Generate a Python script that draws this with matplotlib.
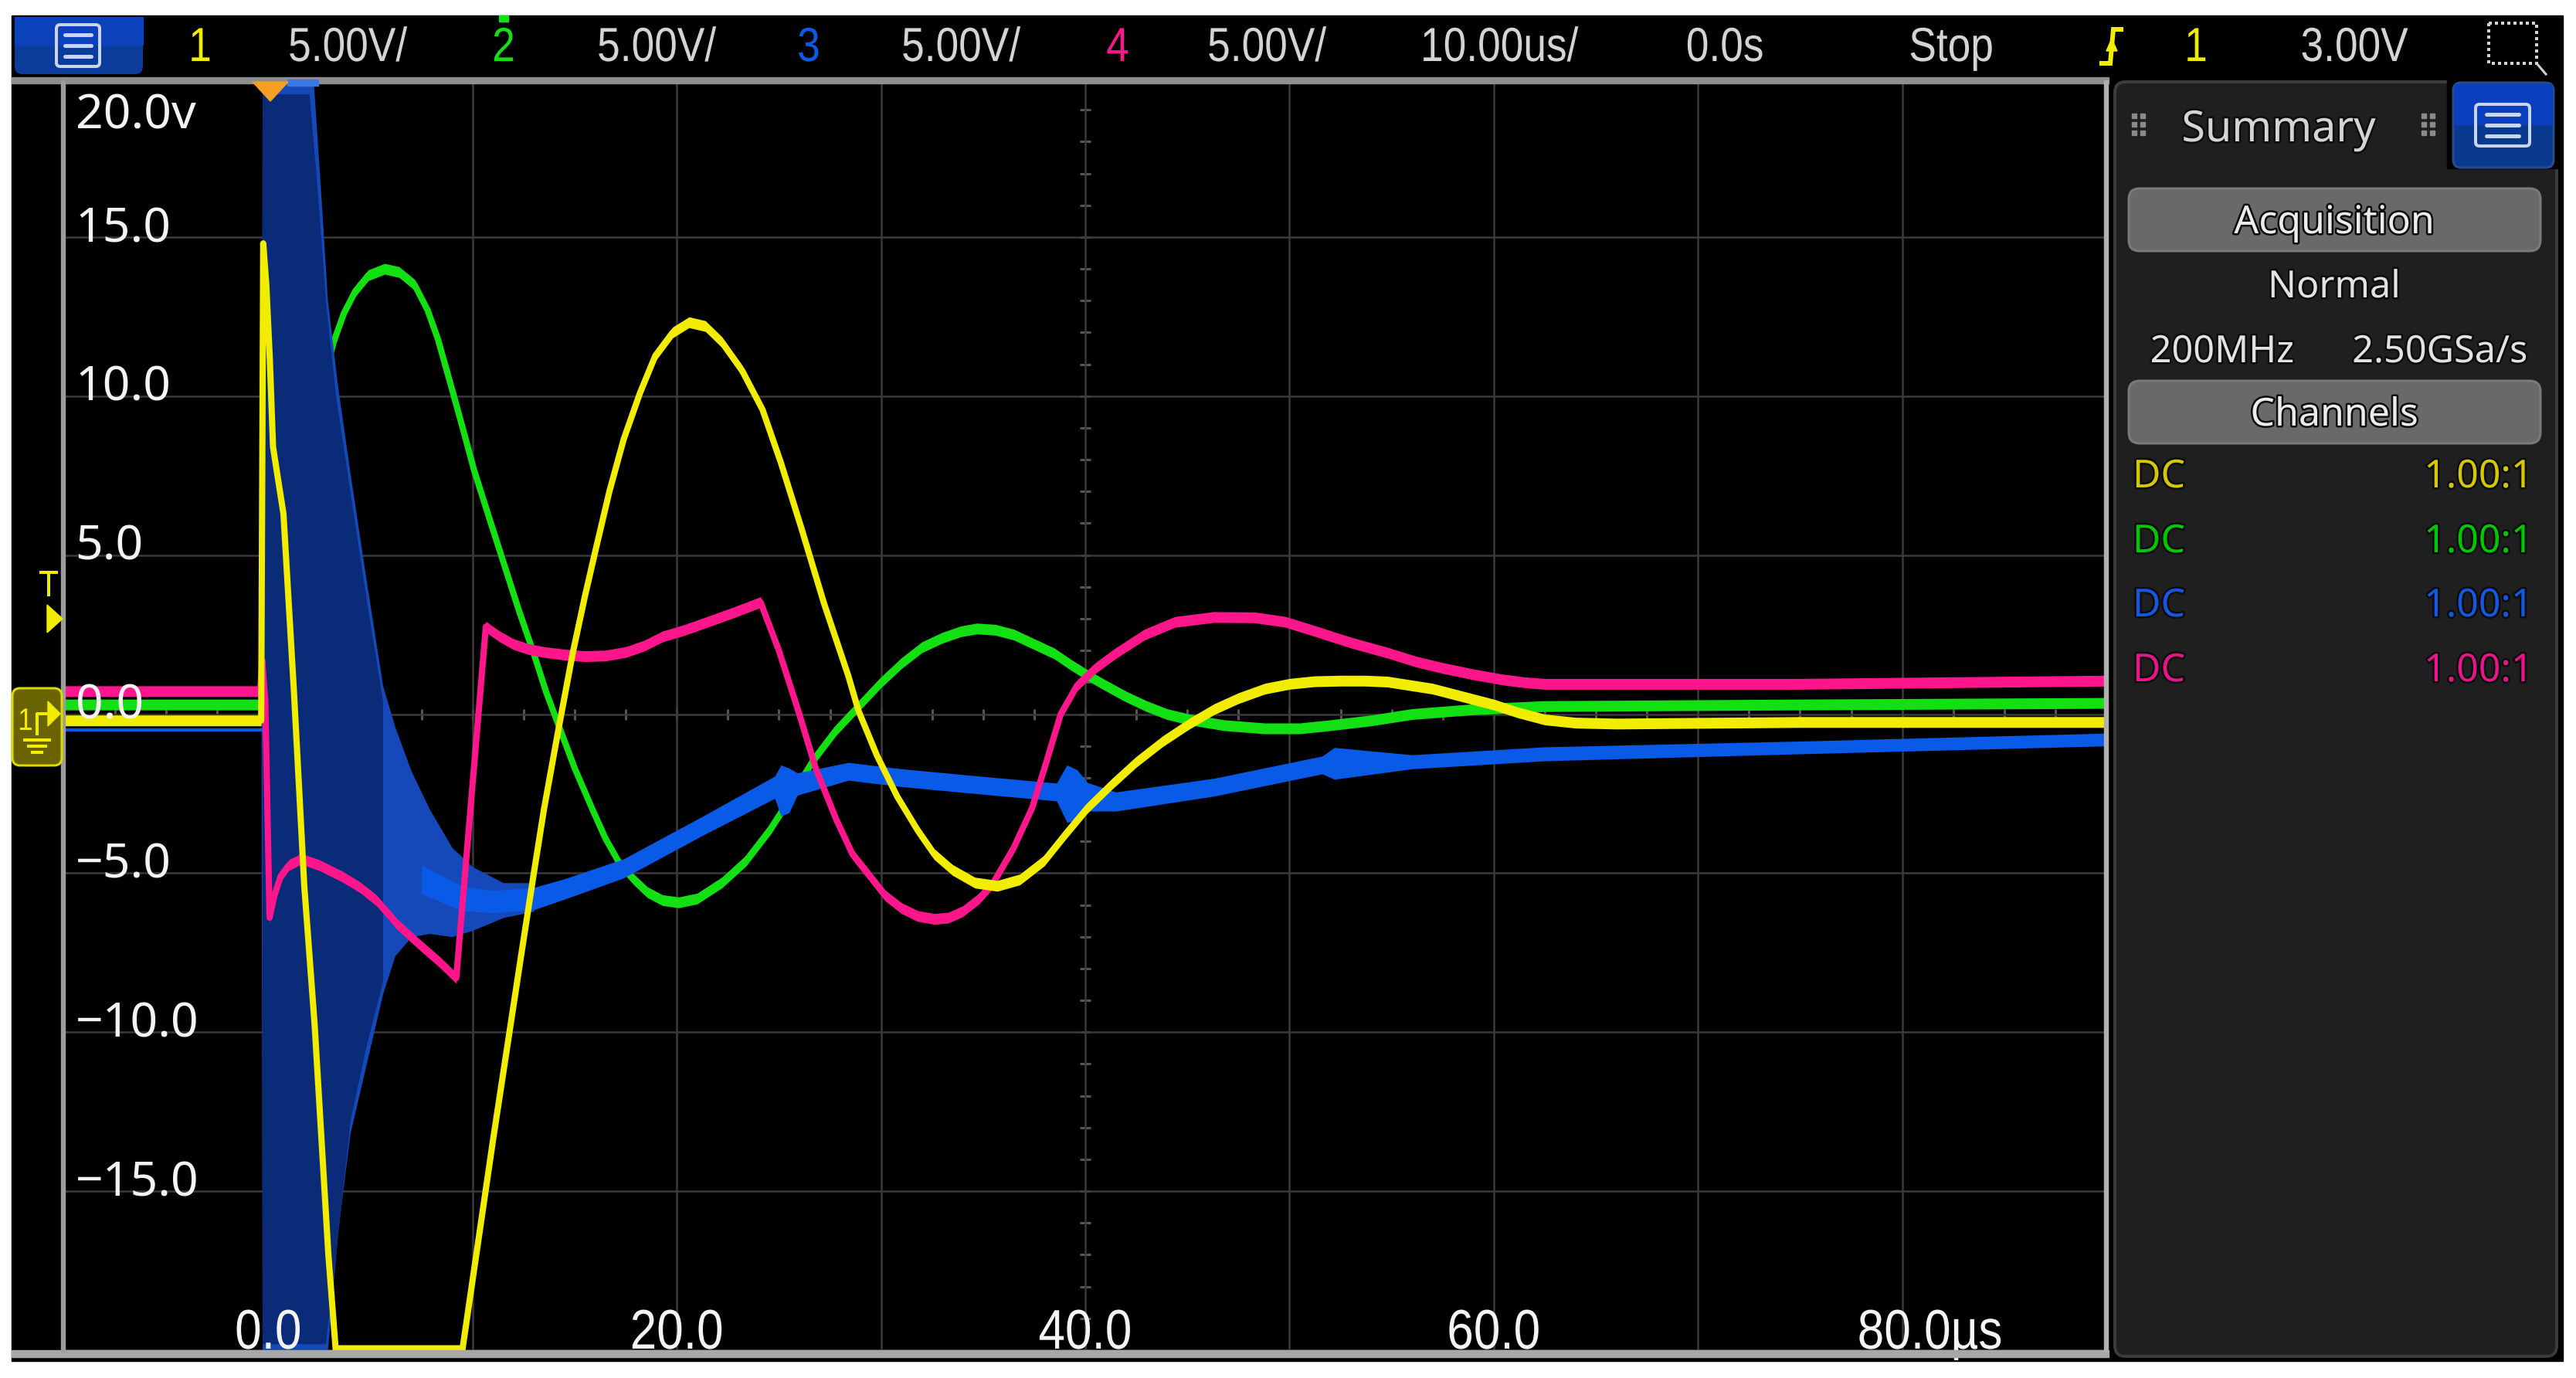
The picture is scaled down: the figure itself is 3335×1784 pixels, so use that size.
import numpy as np
import matplotlib
matplotlib.use('Agg')
import matplotlib.pyplot as plt
from matplotlib.patches import Rectangle, FancyBboxPatch, Polygon
from matplotlib.textpath import TextPath
from matplotlib.font_manager import FontProperties
from matplotlib.transforms import Affine2D
import matplotlib.patheffects as pe
from matplotlib import font_manager as fm

# ---------------- data (time in us, voltage in V) ----------------
yellow_t = [-10, -0.35, -0.25, -0.1, 0.07, 0.23, 0.74, 1.25, 1.76, 2.27, 2.94, 3.3, 9.5, 11.0,
            12.4, 13.0, 13.5, 14.2, 14.9, 15.5, 16.05, 16.7, 17.4, 18.2, 18.95, 19.8, 20.6, 21.4,
            22.2, 23.2, 24.2, 25.1, 26.1, 27.2, 28.4, 28.9, 29.8, 30.8, 31.8, 32.6, 33.5, 34.6,
            35.7, 36.8, 38.0, 39.0, 40.1, 41.3, 42.5, 43.8, 45.1, 46.3, 47.5, 48.8, 50.0, 51.2,
            52.5, 53.7, 54.8, 56.0, 57.0, 58.5, 60.0, 61.2, 62.5, 64.0, 66.0, 75.0, 90.0]
yellow_v = [-0.2, -0.2, 14.8, 13.5, 11.2, 8.4, 6.3, 0.75, -5.4, -9.8, -17.0, -20.0, -20.0, -13.4,
            -7.5, -5.0, -2.98, -0.5, 1.9, 3.7, 5.23, 7.0, 8.64, 10.1, 11.27, 12.0, 12.32, 12.2,
            11.7, 10.8, 9.57, 7.9, 5.85, 3.5, 1.2, 0.1, -1.3, -2.6, -3.66, -4.4, -4.9, -5.3,
            -5.4, -5.2, -4.6, -3.8, -2.95, -2.2, -1.5, -0.85, -0.3, 0.15, 0.5, 0.8, 0.95, 1.03,
            1.05, 1.05, 1.02, 0.9, 0.8, 0.55, 0.3, 0.05, -0.17, -0.27, -0.3, -0.25, -0.25]

green_t = [-10, -0.3, 0.5, 1.5, 2.5, 3.2, 3.7, 4.26, 4.9, 5.7, 6.4, 7.16, 7.8, 8.3, 9.0, 9.6, 10.06,
           10.8, 11.6, 12.3, 12.96, 13.6, 14.3, 15.0, 15.86, 16.5, 17.2, 17.9, 18.56, 19.3, 20.1,
           21.0, 22.2, 23.4, 24.6, 25.6, 26.7, 27.8, 28.9, 30.0, 31.0, 32.0, 33.0, 33.9, 34.7,
           35.6, 36.5, 37.5, 38.5, 39.3, 40.1, 41.0, 42.0, 43.0, 44.0, 45.1, 46.8, 48.8, 50.5,
           52.0, 54.0, 56.0, 59.0, 62.5, 75.0, 90.0]
green_v = [0.3, 0.3, 3.0, 7.0, 10.0, 11.7, 12.6, 13.3, 13.8, 14.0, 13.9, 13.5, 12.7, 11.8, 10.2,
           8.8, 7.7, 6.2, 4.6, 3.2, 1.98, 0.7, -0.5, -1.7, -2.98, -3.9, -4.7, -5.2, -5.6, -5.85,
           -5.92, -5.8, -5.3, -4.6, -3.6, -2.6, -1.43, -0.5, 0.25, 1.0, 1.6, 2.1, 2.4, 2.6, 2.69,
           2.65, 2.5, 2.2, 1.9, 1.55, 1.23, 0.9, 0.55, 0.25, 0.0, -0.17, -0.35, -0.45, -0.45,
           -0.35, -0.2, 0.0, 0.15, 0.25, 0.3, 0.35]

pink_t = [-10, -0.4, -0.3, -0.15, 0.06, 0.3, 0.6, 1.0, 1.6, 2.5, 3.6, 4.5, 5.3, 5.9, 6.3, 7.5, 8.4,
          9.2, 10.65, 11.3, 12.0, 12.7, 13.5, 14.5, 15.5, 16.5, 17.5, 18.4, 19.3, 20.4, 21.5, 22.8,
          24.1, 25.0, 26.0, 26.8, 27.8, 28.6, 29.4, 30.2, 31.0, 31.8, 32.6, 33.3, 34.0, 34.8,
          35.5, 36.5, 37.4, 38.1, 38.8, 39.6, 40.5, 41.5, 42.9, 44.4, 46.3, 48.3, 49.8, 51.2,
          53.0, 54.8, 56.2, 57.5, 59.0, 60.4, 61.5, 62.5, 75.0, 90.0]
pink_v = [0.72, 0.72, 1.7, 0.4, -6.4, -5.7, -5.1, -4.75, -4.55, -4.75, -5.1, -5.45, -5.86, -6.3,
          -6.6, -7.3, -7.8, -8.3, 2.75, 2.45, 2.2, 2.05, 1.95, 1.87, 1.82, 1.84, 1.95, 2.15, 2.44,
          2.65, 2.9, 3.2, 3.52, 2.0, 0.0, -1.7, -3.3, -4.4, -5.05, -5.7, -6.1, -6.35, -6.44,
          -6.4, -6.2, -5.8, -5.3, -4.2, -2.95, -1.5, 0.0, 0.9, 1.45, 1.92, 2.5, 2.9, 3.05, 3.04,
          2.9, 2.62, 2.25, 1.93, 1.65, 1.45, 1.25, 1.09, 1.0, 0.95, 0.95, 1.05]

blue_pre_t = [-10, -0.3]
blue_pre_v = [-0.5, -0.5]
blue_env_t = [-0.35, -0.3, 2.2, 2.6, 2.9, 3.4, 4.0, 4.8, 5.6, 6.2, 7.0, 7.9, 9.0, 10.0, 11.5, 13.0]
blue_env_hi = [-0.3, 20, 20, 16.1, 13.0, 10.3, 7.6, 4.2, 0.9, -0.4, -1.8, -3.0, -4.2, -4.8, -5.3, -5.3]
blue_env_lo = [-0.7, -20, -20, -20, -20, -16.3, -13.2, -11.0, -8.8, -7.6, -7.0, -6.9, -7.0, -6.8, -6.4, -6.2]
blue_core_t = [-0.3, 2.0, 2.4, 2.8, 3.3, 4.0, 4.8, 5.6]
blue_core_hi = [19.5, 19.5, 16.5, 13.0, 10.0, 7.0, 3.6, 0.4]
blue_core_lo = [-19.8, -19.8, -19.8, -19.8, -17.0, -12.8, -10.4, -8.4]
blue_t = [7.5, 9.5, 11.0, 13.0, 14.5, 17.4, 21.3, 24.8, 25.1, 25.5, 25.9, 28.4, 31.0, 34.3, 38.6,
          39.1, 39.6, 40.1, 41.5, 46.3, 51.6, 52.2, 56.0, 62.5, 75.0, 90.0]
blue_v = [-5.2, -5.8, -5.9, -5.8, -5.5, -4.85, -3.5, -2.3, -2.4, -2.4, -2.2, -1.8, -2.0, -2.2,
          -2.45, -2.5, -2.55, -2.6, -2.75, -2.3, -1.6, -1.55, -1.5, -1.25, -1.05, -0.8]
blue_w = [0.45, 0.38, 0.35, 0.35, 0.32, 0.3, 0.3, 0.35, 0.8, 0.7, 0.35, 0.28, 0.28, 0.28, 0.28,
          0.9, 0.8, 0.45, 0.3, 0.28, 0.28, 0.5, 0.22, 0.22, 0.2, 0.2]

ylab_vals = [20, 15, 10, 5, 0, -5, -10, -15]
ylab_text = ['20.0v', '15.0', '10.0', '5.0', '0.0', '\u22125.0', '\u221210.0', '\u221215.0']
xlab_vals = [0, 20, 40, 60, 80]
xlab_text = ['0.0', '20.0', '40.0', '60.0', '80.0']
x_unit = '\u00b5s'

topbar_items = [('1', 'ch1'), ('5.00V/', 'txt'), ('2', 'ch2'), ('5.00V/', 'txt'), ('3', 'ch3'),
                ('5.00V/', 'txt'), ('4', 'ch4'), ('5.00V/', 'txt'), ('10.00us/', 'txt'),
                ('0.0s', 'txt'), ('Stop', 'txt'), ('1', 'ch1'), ('3.00V', 'txt')]
channel_rows = [('DC', '1.00:1', 'ch1'), ('DC', '1.00:1', 'ch2'), ('DC', '1.00:1', 'ch3'),
                ('DC', '1.00:1', 'ch4')]

# ---------------- style ----------------
W, H, DPI = 3335, 1784, 100
names = {f.name for f in fm.fontManager.ttflist}
SANS = 'Noto Sans' if 'Noto Sans' in names else 'DejaVu Sans'
skw = {'family': [SANS, 'DejaVu Sans']}
NARROW_FAM = ['Liberation Sans', 'DejaVu Sans']
NFP = FontProperties(family=NARROW_FAM)
SX = 0.86

COL = {'ch1': '#f2ec00', 'ch2': '#12e012', 'ch3': '#0a5ae8', 'ch4': '#ff168c', 'txt': '#d4d4d4'}
PANEL_COL = {'ch1': '#d4c800', 'ch2': '#00c800', 'ch3': '#1458e0', 'ch4': '#e8158a'}


def pt(px):
    return px * 72.0 / DPI


class Condense(pe.AbstractPathEffect):
    """Draw the text glyphs horizontally compressed about the text anchor."""

    def __init__(self, sx):
        super().__init__()
        self.sx = sx
        self.text = None

    def draw_path(self, renderer, gc, tpath, affine, rgbFace=None):
        cx = self.text.get_transform().transform(self.text.get_position())[0]
        aff = affine + Affine2D().translate(-cx, 0).scale(self.sx, 1).translate(cx, 0)
        renderer.draw_path(gc, tpath, aff, rgbFace)


def ctext(axx, x, y, s, fs, color, ha='center', sx=SX, z=10):
    eff = Condense(sx)
    t = axx.text(x, y, s, fontsize=fs, color=color, ha=ha, va='baseline', family=NARROW_FAM,
                 path_effects=[eff], zorder=z)
    eff.text = t
    return t


fig = plt.figure(figsize=(W / DPI, H / DPI), dpi=DPI, facecolor='white')

ui = fig.add_axes([0, 0, 1, 1], zorder=0)
ui.set_xlim(0, W); ui.set_ylim(H, 0); ui.axis('off')
ui.add_patch(Rectangle((15, 20), 3303, 1742, color='black'))

# ---------------- main plot ----------------
L, R, T, B = 83, 2727, 101, 1748
ax = fig.add_axes([L / W, (H - B) / H, (R - L) / W, (B - T) / H], zorder=1)
ax.set_facecolor('black')
ax.set_xlim(-10, 90)
ax.set_ylim(-20, 20)
ax.set_xticks(np.arange(-10, 91, 10))
ax.set_yticks(np.arange(-20, 21, 5))
ax.tick_params(length=0, labelbottom=False, labelleft=False)
ax.grid(True, color='#3a3a3a', lw=pt(2.5), zorder=0.5)
for s in ax.spines.values():
    s.set_visible(False)

mv = np.arange(-20, 21, 1.0)
ax.plot(np.full_like(mv, 40.0), mv, ls='none', marker='_', ms=pt(14), mew=pt(3),
        color='#555555', zorder=0.6)
mt = np.arange(-10, 91, 2.5)
ax.plot(mt, np.zeros_like(mt), ls='none', marker='|', ms=pt(14), mew=pt(3),
        color='#555555', zorder=0.6)


def trace(t, v, color, z, band=0.17, lw=5.8):
    t = np.asarray(t, float); v = np.asarray(v, float)
    ax.fill_between(t, v - band, v + band, color=color, lw=0, zorder=z)
    ax.plot(t, v, color=color, lw=lw, zorder=z, solid_joinstyle='round')


trace(green_t, green_v, COL['ch2'], 2)
ax.fill_between(blue_env_t, blue_env_lo, blue_env_hi, color='#1548b8', lw=0, zorder=3)
ax.fill_between(blue_core_t, blue_core_lo, blue_core_hi, color='#0a2c78', lw=0, zorder=3.05)
bt = np.asarray(blue_t); bv = np.asarray(blue_v); bw = np.asarray(blue_w)
ax.fill_between(bt, bv - bw, bv + bw, color=COL['ch3'], lw=0, zorder=3.1)
ax.plot(blue_pre_t, blue_pre_v, color=COL['ch3'], lw=3, zorder=3.1)
trace(pink_t, pink_v, COL['ch4'], 4)
trace(yellow_t, yellow_v, COL['ch1'], 5)

# y labels (inside, left)
for v, s in zip(ylab_vals, ylab_text):
    yb = v - 0.15 if v < 20 else 18.4
    ax.text(-9.45, yb, s, color='#f4f4f4', fontsize=45, ha='left', va='baseline',
            zorder=10, **skw)

# x labels (condensed, at the bottom edge)
XFS = 52
xem = XFS * DPI / 72.0
units_per_px = (90 - (-10)) / (R - L)
for v, s in zip(xlab_vals, xlab_text):
    if s == xlab_text[-1]:
        w = TextPath((0, 0), s, size=xem, prop=NFP).get_extents().width * SX
        ctext(ax, v - 0.5 * w * units_per_px, -19.95, s + x_unit, XFS, '#f4f4f4', ha='left')
    else:
        ctext(ax, v, -19.95, s, XFS, '#f4f4f4')

# ---------------- overlay UI ----------------
uo = fig.add_axes([0, 0, 1, 1], zorder=2)
uo.set_xlim(0, W); uo.set_ylim(H, 0); uo.axis('off'); uo.patch.set_alpha(0)

uo.add_patch(Rectangle((15, 100), 2715, 8, color='#8e8e8e'))
uo.add_patch(Rectangle((15, 1748), 2715, 9, color='#a8a8a8'))
uo.add_patch(Rectangle((79, 104), 5, 1646, color='#9c9c9c'))
uo.add_patch(Rectangle((2724, 104), 5, 1646, color='#b0b0b0'))

uo.add_patch(Rectangle((372, 103), 40, 8, color='#3a78e6'))
uo.add_patch(Polygon([(327, 106), (373, 106), (350, 131)], closed=True, color='#f5a020'))

uo.add_patch(FancyBboxPatch((19, 22), 166, 74, boxstyle='round,pad=0,rounding_size=10',
                            fc='#0a3c9c', ec='none'))
uo.add_patch(Rectangle((19, 22), 166, 36, color='#0b42bc'))


def menu_icon(cx, cy, w, h):
    uo.add_patch(FancyBboxPatch((cx - w / 2, cy - h / 2), w, h,
                                boxstyle='round,pad=0,rounding_size=5', fc='none',
                                ec='#c8d4f0', lw=pt(4)))
    for dy in (-0.26, 0.0, 0.26):
        uo.plot([cx - w * 0.3, cx + w * 0.3], [cy + dy * h, cy + dy * h], color='#c8d4f0',
                lw=pt(5), solid_capstyle='round')


menu_icon(101, 59, 56, 54)

top_x = [259, 450, 652, 850, 1047, 1244, 1447, 1640, 1941, 2233, 2526, 2843, 3048]
for (s, k), x in zip(topbar_items, top_x):
    ctext(uo, x, 79, s, 44.6, COL[k])
uo.add_patch(Rectangle((646, 20), 12, 8, color=COL['ch2']))
uo.plot([2721, 2732, 2736, 2746], [82, 82, 38, 38], color=COL['ch1'], lw=pt(6),
        solid_joinstyle='miter')
uo.add_patch(Polygon([(2727, 66), (2741, 66), (2734, 50)], closed=True, color=COL['ch1']))
uo.add_patch(Rectangle((3222, 30), 62, 52, fc='none', ec='#d0d0d0', lw=pt(4), ls=(0, (1, 1))))
uo.plot([3284, 3296], [82, 96], color='#d0d0d0', lw=pt(3))

# left-side markers
ctext(uo, 63, 772, 'T', 34.5, COL['ch1'])
uo.add_patch(Polygon([(61, 783), (81, 801), (61, 819)], closed=True, color=COL['ch1']))
uo.add_patch(FancyBboxPatch((16, 891), 64, 100, boxstyle='round,pad=0,rounding_size=10',
                            fc='#6a6400', ec='#e0d800', lw=pt(3)))
ctext(uo, 33, 945, '1', 29, COL['ch1'])
uo.add_patch(Polygon([(62, 908), (78, 924), (62, 940)], closed=True, color=COL['ch1']))
uo.plot([48, 48, 64], [950, 924, 924], color=COL['ch1'], lw=pt(4))
for i, hw in enumerate((16, 11, 6)):
    uo.plot([48 - hw, 48 + hw], [958 + i * 8, 958 + i * 8], color=COL['ch1'], lw=pt(4))

# ---------------- right panel ----------------
outline = pe.withStroke(linewidth=pt(5), foreground='#0c0c0c')
uo.add_patch(FancyBboxPatch((2738, 106), 572, 1650, boxstyle='round,pad=0,rounding_size=14',
                            fc='#1f1f1f', ec='#3c3c3c', lw=pt(4)))
uo.add_patch(Rectangle((3168, 104), 145, 114, color='black'))
uo.add_patch(FancyBboxPatch((3176, 107), 130, 110, boxstyle='round,pad=0,rounding_size=10',
                            fc='#0a3a90', ec='#2b4c8c', lw=pt(3)))
uo.add_patch(Rectangle((3178, 109), 126, 52, color='#0a3fc0'))
menu_icon(3240, 162, 70, 54)
for gx in (2760, 3135):
    for i in range(2):
        for j in range(3):
            uo.add_patch(Rectangle((gx + i * 11, 147 + j * 11), 6, 6, color='#8a8a8a'))
uo.text(2950, 183, 'Summary', color='#d4d4d4', fontsize=40, ha='center', va='baseline',
        path_effects=[outline], **skw)

for y0, label in ((244, 'Acquisition'), (493, 'Channels')):
    uo.add_patch(FancyBboxPatch((2756, y0), 533, 81, boxstyle='round,pad=0,rounding_size=14',
                                fc='#696969', ec='#7a7a7a', lw=pt(3)))
    uo.text(3022, y0 + 58, label, color='#ececec', fontsize=36, ha='center', va='baseline',
            path_effects=[outline], **skw)
uo.text(3022, 385, 'Normal', color='#e2e2e2', fontsize=35, ha='center', va='baseline',
        path_effects=[outline], **skw)
uo.text(2877, 469, '200MHz', color='#e2e2e2', fontsize=35, ha='center', va='baseline',
        path_effects=[outline], **skw)
uo.text(3159, 469, '2.50GSa/s', color='#e2e2e2', fontsize=35, ha='center', va='baseline',
        path_effects=[outline], **skw)
for (a, b, k), yb in zip(channel_rows, (631, 715, 798, 882)):
    uo.text(2761, yb, a, color=PANEL_COL[k], fontsize=36, ha='left', va='baseline',
            path_effects=[outline], **skw)
    uo.text(3280, yb, b, color=PANEL_COL[k], fontsize=36, ha='right', va='baseline',
            path_effects=[outline], **skw)

fig.savefig('out.png', dpi=DPI, facecolor='white')
